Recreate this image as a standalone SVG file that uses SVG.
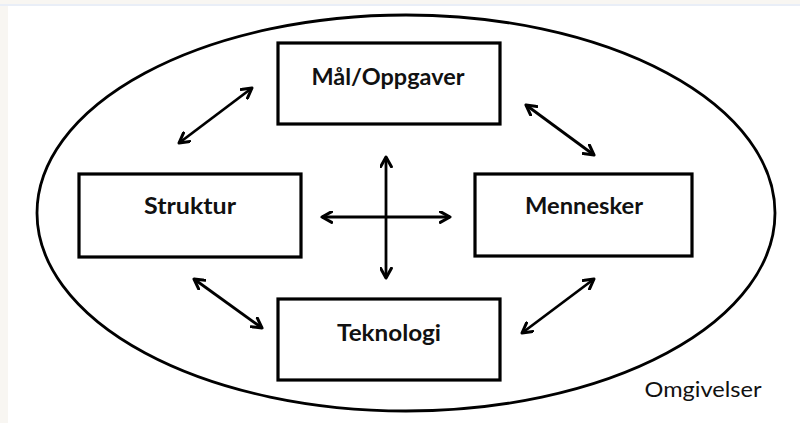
<svg xmlns="http://www.w3.org/2000/svg" width="800" height="423" viewBox="0 0 800 423">
<defs>
<marker id="ah" viewBox="0 0 12 12" refX="10" refY="6" markerWidth="13" markerHeight="13" markerUnits="userSpaceOnUse" orient="auto-start-reverse">
<path d="M1,1 L10,6 L1,11" fill="none" stroke="#000" stroke-width="2.8" stroke-linecap="round" stroke-linejoin="round"/>
</marker>
<style>
.box{fill:#fff;stroke:#000;stroke-width:3.2}
.lbl{font-family:Lato,"Open Sans","Liberation Sans",sans-serif;font-weight:bold;font-size:22px;fill:#111;text-anchor:middle}
.arr{stroke:#000;stroke-width:2.8;fill:none;marker-start:url(#ah);marker-end:url(#ah)}
</style>
</defs>
<rect x="0" y="0" width="800" height="423" fill="#fff"/>
<rect x="0" y="0" width="800" height="4" fill="#f8f6f2"/>
<rect x="0" y="4" width="800" height="2" fill="#e9eef7"/>
<rect x="0" y="6" width="8" height="417" fill="#f8f6f2"/>
<g id="omgivelser">
<ellipse cx="406" cy="213" rx="369" ry="198" fill="none" stroke="#000" stroke-width="2.8"/>
<text x="703" y="397" font-family="Lato,'Open Sans','Liberation Sans',sans-serif" font-size="21" fill="#111" text-anchor="middle" textLength="117" lengthAdjust="spacingAndGlyphs">Omgivelser</text>
</g>
<g id="maal">
<rect class="box" x="278" y="43" width="222" height="81"/>
<text class="lbl" x="388" y="85" textLength="153" lengthAdjust="spacingAndGlyphs">Mål/Oppgaver</text>
</g>
<g id="struktur">
<rect class="box" x="79" y="174" width="222" height="83"/>
<text class="lbl" x="190" y="214" textLength="92" lengthAdjust="spacingAndGlyphs">Struktur</text>
</g>
<g id="mennesker">
<rect class="box" x="475" y="174" width="217" height="82"/>
<text class="lbl" x="584" y="214" textLength="118" lengthAdjust="spacingAndGlyphs">Mennesker</text>
</g>
<g id="teknologi">
<rect class="box" x="278" y="299" width="222" height="81"/>
<text class="lbl" x="389" y="341" textLength="104" lengthAdjust="spacingAndGlyphs">Teknologi</text>
</g>
<g id="connectors">
<line class="arr" x1="179" y1="143" x2="252" y2="88"/>
<line class="arr" x1="526" y1="105" x2="594" y2="155"/>
<line class="arr" x1="194" y1="279" x2="262" y2="328"/>
<line class="arr" x1="522" y1="333" x2="594" y2="279"/>
<line class="arr" x1="386" y1="157" x2="386" y2="278"/>
<line class="arr" x1="322" y1="217" x2="450" y2="217"/>
</g>
</svg>
